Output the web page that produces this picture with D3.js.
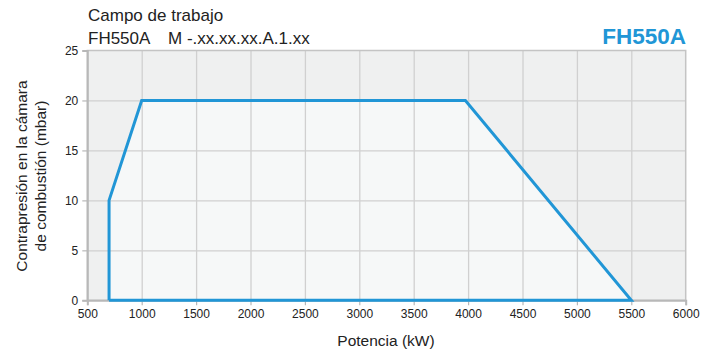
<!DOCTYPE html>
<html><head><meta charset="utf-8">
<script src="https://cdn.jsdelivr.net/npm/d3@7"></script>
<style>body{margin:0;background:#fff;} text{font-family:"Liberation Sans",Arial,sans-serif;}</style>
</head><body>
<svg id="c" width="717" height="352"></svg>
<script>
const powerKW = [700, 700, 1000, 3975, 5500];
const pressureMbar = [0, 10, 20, 20, 0];
const xTicks = [500,1000,1500,2000,2500,3000,3500,4000,4500,5000,5500,6000];
const yTicks = [0,5,10,15,20,25];
const title = "Campo de trabajo";
const subtitleA = "FH550A";
const subtitleB = "M -.xx.xx.xx.A.1.xx";
const model = "FH550A";

const svg = d3.select("#c");
const m = {l:87.3, r:685.7, t:50.5, b:300.3};
const x = d3.scaleLinear().domain([500,6000]).range([m.l,m.r]);
const y = d3.scaleLinear().domain([0,25]).range([m.b,m.t]);
const blue = "#2196d6";

svg.append("rect").attr("x",m.l).attr("y",m.t).attr("width",m.r-m.l).attr("height",m.b-m.t).attr("fill","#eff0f0");
const pts = powerKW.map((p,i)=>[x(p),y(pressureMbar[i])]);
svg.append("polygon").attr("points",pts.map(d=>d.join(",")).join(" ")).attr("fill","#f6f8f8");

// grid via axes
svg.append("g").attr("transform",`translate(0,${m.b})`)
  .call(d3.axisBottom(x).tickValues(xTicks.slice(1,-1)).tickSize(-(m.b-m.t)).tickFormat(""))
  .call(g=>g.select(".domain").remove())
  .call(g=>g.selectAll(".tick line").attr("stroke","#d0d0d0").attr("stroke-width",1.3));
svg.append("g").attr("transform",`translate(${m.l},0)`)
  .call(d3.axisLeft(y).tickValues(yTicks.slice(1,-1)).tickSize(-(m.r-m.l)).tickFormat(""))
  .call(g=>g.select(".domain").remove())
  .call(g=>g.selectAll(".tick line").attr("stroke","#d0d0d0").attr("stroke-width",1.3));
// border
svg.append("rect").attr("x",m.l).attr("y",m.t).attr("width",m.r-m.l).attr("height",m.b-m.t).attr("fill","none").attr("stroke","#c4c4c4").attr("stroke-width",1.5);

// axes
const xa = svg.append("g").attr("transform",`translate(0,${m.b})`).call(d3.axisBottom(x).tickValues(xTicks).tickSize(5).tickPadding(4).tickFormat(d3.format("d")));
const ya = svg.append("g").attr("transform",`translate(${m.l},0)`).call(d3.axisLeft(y).tickValues(yTicks).tickSize(5).tickPadding(4));
[xa,ya].forEach(a=>{
  a.select(".domain").attr("stroke","#b8b8b8").attr("stroke-width",2);
  a.selectAll(".tick line").attr("stroke","#b8b8b8").attr("stroke-width",1.2);
  a.selectAll("text").attr("font-size",12).attr("fill","#222").style("font-family","'Liberation Sans',Arial,sans-serif");
});

// data line
svg.append("path").attr("d",d3.line()(pts.concat([pts[0]])))
  .attr("fill","none").attr("stroke",blue).attr("stroke-width",3).attr("stroke-linejoin","miter");

// texts
svg.append("text").attr("x",88).attr("y",21).attr("font-size",17).attr("fill","#222").text(title);
svg.append("text").attr("x",88).attr("y",44).attr("font-size",17).attr("fill","#222").text(subtitleA);
svg.append("text").attr("x",168).attr("y",44).attr("font-size",17).attr("fill","#222").text(subtitleB);
svg.append("text").attr("x",686).attr("y",44).attr("text-anchor","end").attr("font-size",22.5).attr("font-weight","bold").attr("fill",blue).text(model);
svg.append("text").attr("x",386).attr("y",346).attr("text-anchor","middle").attr("font-size",15.5).attr("fill","#222").text("Potencia (kW)");
const yl = svg.append("text").attr("transform","translate(27,176) rotate(-90)").attr("text-anchor","middle").attr("font-size",15.5).attr("fill","#222");
yl.append("tspan").attr("x",0).attr("y",0).text("Contrapresión en la cámara");
yl.append("tspan").attr("x",0).attr("y",19).text("de combustión (mbar)");
</script>
</body></html>
